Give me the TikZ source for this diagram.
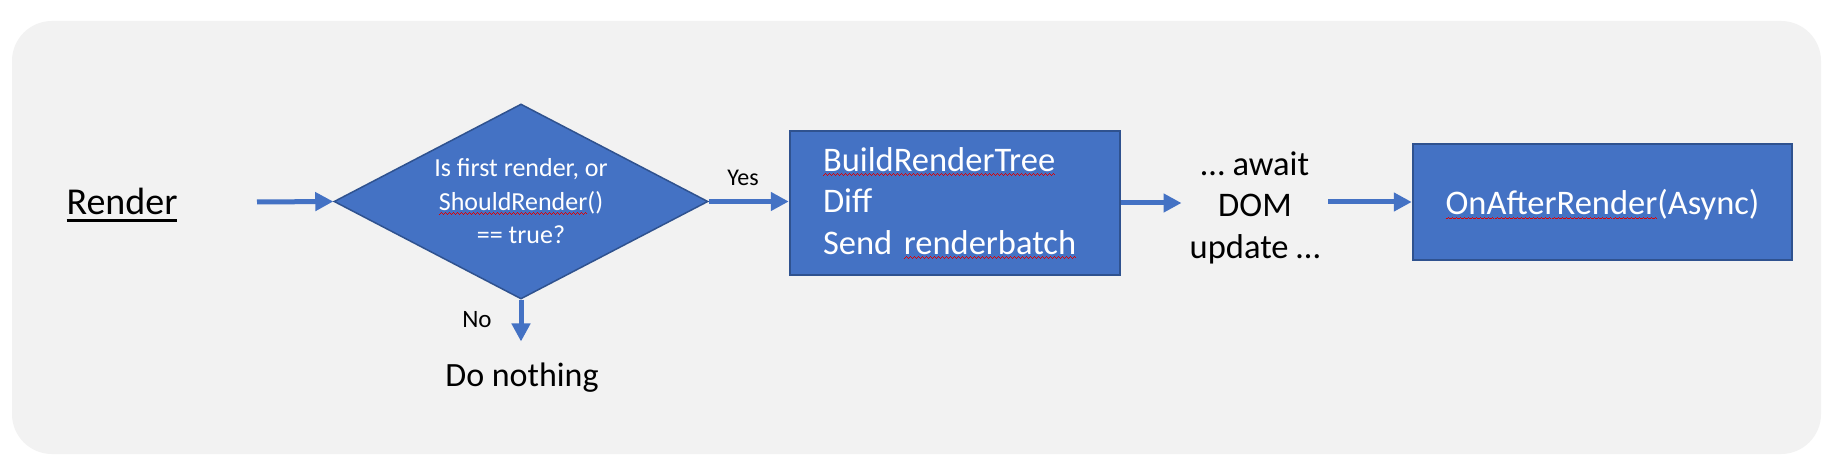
\documentclass[tikz,border=0pt]{standalone}
\usepackage{fontspec}
\setmainfont{Carlito}
\usetikzlibrary{shapes.geometric,arrows.meta}
\definecolor{bluefill}{HTML}{4472C4}
\definecolor{blueedge}{HTML}{2F528F}
\definecolor{panel}{HTML}{F2F2F2}
\definecolor{squigred}{HTML}{E00000}
\newsavebox\sqbox
\newcommand\wavebit{\rule[-4.2bp]{1bp}{0.9bp}\rule[-3.5bp]{1bp}{0.9bp}\rule[-2.8bp]{1bp}{0.9bp}\rule[-3.5bp]{1bp}{0.9bp}}
\newcommand\squig[1]{\sbox\sqbox{#1}\rlap{\textcolor{squigred}{\hbox to\wd\sqbox{\xleaders\hbox{\wavebit}\hfill}}}\usebox\sqbox}
\newcommand\ulrule[1]{\sbox\sqbox{#1}\rlap{\rule[-7bp]{\wd\sqbox}{3bp}}\usebox\sqbox}
\newcommand\fsz[2]{\fontsize{#1bp}{#2bp}\selectfont}
\begin{document}
\begin{tikzpicture}[x=1bp,y=-1bp,
  arr/.style={draw=bluefill, line width=5bp, -{Triangle[length=18bp,width=18bp]}},
  procbox/.style={rectangle, fill=bluefill, draw=blueedge, line width=2.5bp, text=white, inner sep=0pt},
  decision/.style={diamond, fill=bluefill, draw=blueedge, line width=1.5bp, text=white, inner sep=0pt,
    aspect=1.92, minimum width=374bp, minimum height=195bp},
  plain/.style={inner sep=0pt, text=black}]
\fill[white] (0,0) rectangle (1829,475);
\fill[panel, rounded corners=40bp] (12,21) rectangle (1821,454);
\useasboundingbox (0,0) rectangle (1829,475);

\node[plain, anchor=base, font=\fsz{38}{46}] (render) at (122,215) {\ulrule{Render}};
\coordinate (start) at (257,202);

\node[decision, font=\fsz{26}{33.5}, align=center] (dia) at (521,201.5)
  {Is first render, or\\\squig{ShouldRender}()\\== true?};

\node[procbox, minimum width=330bp, minimum height=144bp, text width=264bp, align=left,
  font=\fsz{34.5}{41.5}] (build) at (955,203)
  {\squig{BuildRenderTree}\\Diff\\Send \squig{renderbatch}};

\node[plain, inner xsep=8bp, align=center, font=\fsz{34.5}{41.5}] (await) at (1255,207.7)
  {… await\\DOM\\update …};

\node[procbox, minimum width=379bp, minimum height=116bp, text height=26bp, text depth=0pt,
  font=\fsz{34.5}{41.5}] (after) at (1602.5,202)
  {\squig{OnAfterRender}(Async)};

\node[plain, anchor=base, font=\fsz{34}{41}] (nothing) at (522,387) {Do nothing};

\node[plain, anchor=base, font=\fsz{24}{29}] (yes) at (743,186) {Yes};
\node[plain, anchor=base, font=\fsz{25}{30}] (no) at (477,328) {No};

\draw[arr] (start) -- (dia.west);
\draw[arr] (dia.east) -- (dia.east -| build.west);
\draw[arr, shorten >=21.7bp] (dia.south) -- (dia.south |- nothing.north);
\draw[arr] (build.east) -- (build.east -| await.west);
\draw[arr] (await.east |- after.west) -- (after.west);
\end{tikzpicture}
\end{document}
